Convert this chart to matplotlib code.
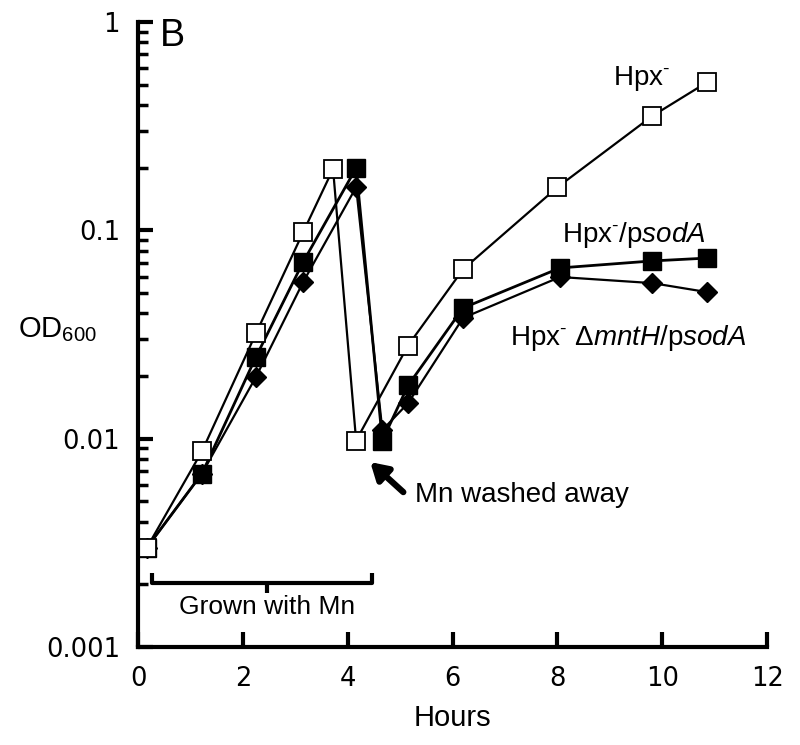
import matplotlib
matplotlib.use("Agg")
import matplotlib.pyplot as plt

plt.rcParams['mathtext.fontset'] = 'custom'
plt.rcParams['mathtext.rm'] = 'Liberation Sans'
plt.rcParams['mathtext.it'] = 'Liberation Sans:italic'
plt.rcParams['mathtext.default'] = 'regular'

# Hpx- (open squares)
hpx_hours = [0.17, 1.22, 2.25, 3.15, 3.72, 4.16, 5.15, 6.2, 8.0, 9.81, 10.86]
hpx_od = [0.003, 0.0087, 0.032, 0.098, 0.197, 0.0098, 0.028, 0.065, 0.161, 0.354, 0.515]

# Hpx-/psodA (filled squares)
sod_hours = [0.17, 1.22, 2.25, 3.15, 4.16, 4.66, 5.15, 6.2, 8.05, 9.81, 10.86]
sod_od = [0.003, 0.0068, 0.0247, 0.0705, 0.199, 0.0098, 0.018, 0.0424, 0.066, 0.0713, 0.0736]

# Hpx- dmntH/psodA (diamonds)
mnt_hours = [0.17, 1.22, 2.25, 3.15, 4.16, 4.66, 5.15, 6.2, 8.05, 9.81, 10.86]
mnt_od = [0.003, 0.0068, 0.0198, 0.0565, 0.161, 0.011, 0.0148, 0.038, 0.0597, 0.0558, 0.0505]

fig = plt.figure(figsize=(8, 7.45), dpi=100)
ax = fig.add_axes([0.1725, 0.1315, 0.7865, 0.839])

ax.plot(mnt_hours, mnt_od, '-D', color='black', lw=1.6, ms=10.5, mfc='black', mec='black')
ax.plot(sod_hours, sod_od, '-s', color='black', lw=2.0, ms=12.5, mfc='black', mec='black')
ax.plot(hpx_hours, hpx_od, '-s', color='black', lw=1.6, ms=12.5, mfc='white', mec='black', mew=1.3)

ax.set_yscale('log')
ax.set_xlim(0, 12)
ax.set_ylim(0.001, 1)
ax.set_xticks(range(0, 13, 2))
ax.set_yticks([0.001, 0.01, 0.1, 1])
ax.set_yticklabels(['0.001', '0.01', '0.1', '1'])

for s in ['top', 'right']:
    ax.spines[s].set_visible(False)
for s in ['left', 'bottom']:
    ax.spines[s].set_linewidth(3)

ax.tick_params(axis='both', which='major', direction='in', length=11, width=3,
               labelsize=18.5)
ax.tick_params(axis='y', which='major', pad=13)
ax.tick_params(axis='x', which='major', pad=14)
ax.minorticks_on()
ax.tick_params(axis='y', which='minor', direction='in', length=7, width=2.5)
ax.tick_params(axis='x', which='minor', bottom=False)

ax.set_xlabel('Hours', fontsize=21, family='Liberation Sans', labelpad=8)
fig.text(0.0225, 0.5477, r'OD$_{600}$', fontsize=21, ha='left', va='baseline',
         family='Liberation Sans')

ax.text(0.42, 0.852, 'B', fontsize=27, family='Liberation Sans', va='center', ha='left')

sup = r'$^{\text{-}}$'
ax.text(9.06, 0.498, 'Hpx' + sup, fontsize=20, family='Liberation Sans',
        ha='left', va='baseline')
ax.text(8.09, 0.0879, 'Hpx' + sup + r'/p$\mathit{sodA}$', fontsize=20,
        family='Liberation Sans', ha='left', va='baseline')
ax.text(7.10, 0.0281, 'Hpx' + sup + r' $\mathit{Δ mntH}$/p$\mathit{sodA}$', fontsize=20,
        family='Liberation Sans', ha='left', va='baseline')

ax.text(5.29, 0.00496, 'Mn washed away', fontsize=20, family='Liberation Sans',
        ha='left', va='baseline')
ax.annotate('', xy=(4.43, 0.00772), xytext=(5.06, 0.00554),
            arrowprops=dict(arrowstyle='-|>,head_width=0.6,head_length=1.0',
                            color='black', lw=4.5, shrinkA=0, shrinkB=0))

# bracket for Mn growth period
ax.plot([0.27, 0.27, 4.47, 4.47], [0.00226, 0.00203, 0.00203, 0.00226],
        color='black', lw=3, solid_capstyle='butt')
ax.plot([2.46, 2.46], [0.00203, 0.00181], color='black', lw=3, solid_capstyle='butt')
ax.text(2.47, 0.00155, 'Grown with Mn', fontsize=19, family='Liberation Sans',
        ha='center', va='center')

fig.savefig('out.png', dpi=100)
